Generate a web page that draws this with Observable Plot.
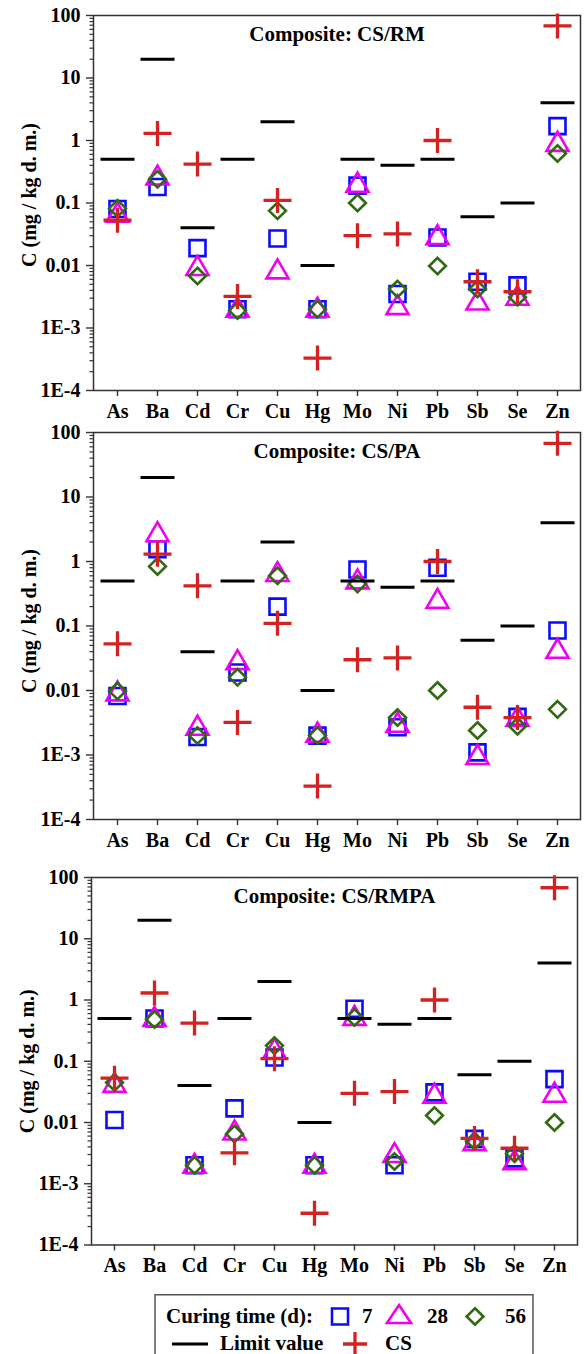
<!DOCTYPE html>
<html><head><meta charset="utf-8">
<script src="https://cdn.jsdelivr.net/npm/d3@7"></script>
<script src="https://cdn.jsdelivr.net/npm/@observablehq/plot@0.6"></script>
<style>
html,body{margin:0;padding:0;background:#fff;}
#root{position:relative;width:585px;height:1354px;overflow:hidden;font-family:"Liberation Serif","Times New Roman",Tinos,"DejaVu Serif",serif;}
#root svg{position:absolute;left:0;max-width:none;background:transparent;overflow:visible;}
#root svg text{font-family:"Liberation Serif","Times New Roman",Tinos,"DejaVu Serif",serif !important;}
</style></head><body><div id="root"></div>
<script>
// ---- data ----
const elements = ["As","Ba","Cd","Cr","Cu","Hg","Mo","Ni","Pb","Sb","Se","Zn"];
const limitValue = [0.5, 20, 0.04, 0.5, 2, 0.01, 0.5, 0.4, 0.5, 0.06, 0.1, 4];
const csValue = [0.053, 1.3, 0.42, 0.0032, 0.11, 0.00033, 0.030, 0.032, 1.0, 0.0055, 0.0038, 68];

const rm7  = [0.08, 0.18, 0.019, 0.002, 0.027, 0.002, 0.19, 0.0035, 0.028, 0.0055, 0.0048, 1.7];
const rm28 = [0.066, 0.26, 0.0093, 0.002, 0.0082, 0.002, 0.2, 0.0022, 0.029, 0.0026, 0.0031, 0.9];
const rm56 = [0.082, 0.24, 0.0068, 0.0019, 0.075, 0.002, 0.1, 0.0042, 0.0098, 0.0042, 0.0031, 0.62];

const pa7  = [0.0082, 1.55, 0.0019, 0.019, 0.2, 0.002, 0.75, 0.0027, 0.8, 0.0011, 0.0039, 0.085];
const pa28 = [0.0092, 2.7, 0.0027, 0.028, 0.65, 0.0021, 0.5, 0.003, 0.25, 0.00095, 0.0037, 0.042];
const pa56 = [0.0098, 0.84, 0.002, 0.016, 0.6, 0.002, 0.45, 0.0038, 0.01, 0.0024, 0.0028, 0.0051];

const rmpa7  = [0.011, 0.5, 0.002, 0.017, 0.115, 0.002, 0.72, 0.002, 0.031, 0.0054, 0.0026, 0.051];
const rmpa28 = [0.042, 0.5, 0.002, 0.007, 0.15, 0.002, 0.52, 0.003, 0.028, 0.0047, 0.0023, 0.029];
const rmpa56 = [0.045, 0.48, 0.002, 0.0065, 0.18, 0.002, 0.52, 0.0023, 0.013, 0.005, 0.0031, 0.01];

const panelTitles = ["Composite: CS/RM", "Composite: CS/PA", "Composite: CS/RMPA"];
const yTickValues = [1e-4, 1e-3, 0.01, 0.1, 1, 10, 100];
const yTickLabels = ["1E-4", "1E-3", "0.01", "0.1", "1", "10", "100"];
const yTitle = "C (mg / kg d. m.)";
const legendTitle = "Curing time (d):";
const curingDays = ["7", "28", "56"];
const legendLimit = "Limit value";
const legendCS = "CS";

// ---- styles ----
const BLUE = "#0a0aff", MAGENTA = "#f000f0", GREEN = "#2f6a10", RED = "#d42222", INK = "#333";
const FONT = '"Liberation Serif", "Times New Roman", Tinos, "DejaVu Serif", serif';

const minorTicks = [];
for (let k = -4; k < 2; k++) for (let m = 2; m <= 9; m++) minorTicks.push(m * Math.pow(10, k));

const squareSym = {draw(c){ const h=8; c.moveTo(-h,-h); c.lineTo(h,-h); c.lineTo(h,h); c.lineTo(-h,h); c.closePath(); }};
const triSym = {draw(c){ c.moveTo(0,-11.5); c.lineTo(11,7.5); c.lineTo(-11,7.5); c.closePath(); }};
const diaSym = {draw(c){ c.moveTo(0,-8.2); c.lineTo(8.4,0); c.lineTo(0,8.2); c.lineTo(-8.4,0); c.closePath(); }};
const plusSym = {draw(c){ c.moveTo(-14,0); c.lineTo(14,0); c.moveTo(0,-12.5); c.lineTo(0,12.5); }};
const dashSym = {draw(c){ c.moveTo(-17,0); c.lineTo(17,0); }};
const minorSym = {draw(c){ c.moveTo(-4,0); c.lineTo(0,0); }};

function panel(title, d7, d28, d56, cfg) {
  const rows = elements.map((e, i) => ({e, limit: limitValue[i], cs: csValue[i], d7: d7[i], d28: d28[i], d56: d56[i]}));
  const chart = Plot.plot({
    width: 585, height: cfg.height,
    marginTop: cfg.mt, marginBottom: cfg.mb, marginLeft: cfg.ml, marginRight: cfg.mr,
    style: {fontFamily: FONT, background: "transparent", overflow: "visible"},
    x: {type: "point", domain: elements, padding: 0.5},
    y: {type: "log", domain: [1e-4, 100]},
    marks: [
      Plot.dot(minorTicks, {y: d => d, frameAnchor: "left", symbol: minorSym, stroke: INK, strokeWidth: 1.2, fill: "none"}),
      Plot.axisY({ticks: yTickValues, tickFormat: d => yTickLabels[yTickValues.indexOf(d)], tickSize: 7, tickPadding: 6,
                  fontFamily: FONT, fontSize: 20, fontWeight: "bold", stroke: INK, strokeWidth: 1.4, label: null}),
      Plot.axisX({tickSize: 6, tickPadding: 7, fontFamily: FONT, fontSize: 20, fontWeight: "bold", stroke: INK, strokeWidth: 1.4, label: null}),
      Plot.frame({stroke: INK, strokeWidth: 1.5}),
      Plot.dot(rows, {x: "e", y: "d7", symbol: squareSym, stroke: BLUE, fill: "none", strokeWidth: 2.6}),
      Plot.dot(rows, {x: "e", y: "d28", symbol: triSym, stroke: MAGENTA, fill: "none", strokeWidth: 2.6}),
      Plot.dot(rows, {x: "e", y: "d56", symbol: diaSym, stroke: GREEN, fill: "none", strokeWidth: 2.6}),
      Plot.dot(rows, {x: "e", y: "cs", symbol: plusSym, stroke: RED, fill: "none", strokeWidth: 3.3}),
      Plot.dot(rows, {x: "e", y: "limit", symbol: dashSym, stroke: "#000", fill: "none", strokeWidth: 3}),
      Plot.text([title], {frameAnchor: "top", lineAnchor: "top", textAnchor: "middle", dy: 10.8, fontFamily: FONT, fontSize: 21, fontWeight: "bold", fill: "#000"}),
      Plot.text([yTitle], {frameAnchor: "left", textAnchor: "middle", rotate: -90, dx: -64, dy: cfg.ydy, fontFamily: FONT, fontSize: 20, fontWeight: "bold", fill: "#000"})
    ]
  });
  chart.style.top = cfg.top + "px";
  return chart;
}

const root = document.getElementById("root");
root.appendChild(panel(panelTitles[0], rm7, rm28, rm56, {top: 0, height: 420, mt: 15, mb: 30, ml: 93, mr: 5, ydy: -8}));
root.appendChild(panel(panelTitles[1], pa7, pa28, pa56, {top: 417, height: 432, mt: 15, mb: 30, ml: 93, mr: 5, ydy: -5}));
root.appendChild(panel(panelTitles[2], rmpa7, rmpa28, rmpa56, {top: 862, height: 412.5, mt: 15, mb: 30, ml: 91, mr: 8, ydy: 0}));

// ---- legend ----
const ns = "http://www.w3.org/2000/svg";
const lg = document.createElementNS(ns, "svg");
lg.setAttribute("width", 585); lg.setAttribute("height", 60);
lg.style.top = "1294px";
function el(tag, attrs, text) { const e = document.createElementNS(ns, tag); for (const k in attrs) e.setAttribute(k, attrs[k]); if (text != null) e.textContent = text; lg.appendChild(e); return e; }
el("rect", {x: 155, y: 0.75, width: 378, height: 90, fill: "#fff", stroke: "#555", "stroke-width": 1.5});
const tAttr = {"font-family": FONT, "font-size": 21, "font-weight": "bold", fill: "#000"};
el("text", {...tAttr, x: 166, y: 29}, legendTitle);
el("path", {d: "M332,14.5H348V30.5H332Z", fill: "none", stroke: BLUE, "stroke-width": 2.6});
el("text", {...tAttr, x: 362, y: 29}, curingDays[0]);
el("path", {d: "M399,11L411,29H387Z", fill: "none", stroke: MAGENTA, "stroke-width": 2.6});
el("text", {...tAttr, x: 427, y: 29}, curingDays[1]);
el("path", {d: "M475,14.3L483.4,22.5L475,30.7L466.6,22.5Z", fill: "none", stroke: GREEN, "stroke-width": 2.6});
el("text", {...tAttr, x: 505, y: 29}, curingDays[2]);
el("path", {d: "M172,50H208", stroke: "#000", "stroke-width": 3});
el("text", {...tAttr, x: 220, y: 56}, legendLimit);
el("path", {d: "M343,50H367M355,38V62", stroke: RED, "stroke-width": 3.3});
el("text", {...tAttr, x: 385, y: 56}, legendCS);
root.appendChild(lg);
</script>
</body></html>
